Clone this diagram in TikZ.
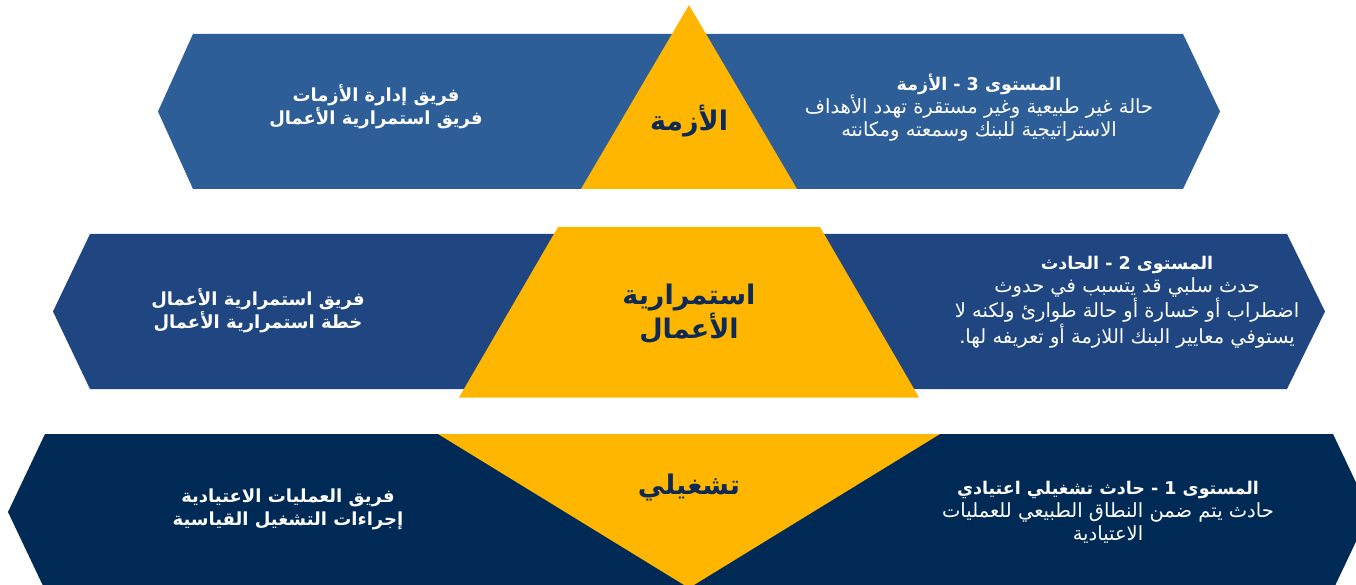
\documentclass[tikz,border=0pt]{standalone}
\usepackage{fontspec}
\TeXXeTstate=1
\newfontfamily\arabicfont[Script=Arabic]{DejaVu Sans}
\definecolor{bandtop}{HTML}{2E5E97}
\definecolor{bandmid}{HTML}{1F4680}
\definecolor{bandlow}{HTML}{002A56}
\definecolor{gold}{HTML}{FFB600}
\definecolor{navytext}{HTML}{0E2A54}
\newcommand{\headfont}{\bfseries\fontsize{17.5}{23}\selectfont}
\tikzset{
  wedge/.style={fill=gold,draw=none},
  bodytext/.style={text=white,align=center,font=\arabicfont\fontsize{19.5}{23}\selectfont,inner sep=0pt},
  teamtext/.style={text=white,align=center,font=\arabicfont\bfseries\fontsize{18}{23}\selectfont,inner sep=0pt},
  tiertext/.style={text=navytext,align=center,font=\arabicfont\bfseries\fontsize{27}{34}\selectfont,inner sep=0pt}
}
\newcommand{\rl}[1]{\beginR #1\endR}
\begin{document}
\begin{tikzpicture}[x=1pt,y=-1pt]
\useasboundingbox (0,0) rectangle (1356,585);
\clip (0,0) rectangle (1356,585);
% three hexagonal bands
\fill[bandtop] (193,34) -- (1183,34) -- (1220,111.5) -- (1183,189) -- (193,189) -- (158,111.5) -- cycle;
\fill[bandmid] (90,234) -- (1287,234) -- (1325,311.5) -- (1287,389) -- (90,389) -- (53,311.5) -- cycle;
\fill[bandlow] (45,434) -- (1333,434) -- (1370,512) -- (1333,590) -- (45,590) -- (8,512) -- cycle;
% pyramid pieces
\fill[wedge] (689,5) -- (797,189) -- (581,189) -- cycle;
\fill[wedge] (558,227) -- (820,227) -- (919,397.5) -- (459,397.5) -- cycle;
\fill[wedge] (438,434) -- (940,434) -- (689,588) -- cycle;
% tier labels
\node[tiertext] (t3) at (689,121) {\rl{الأزمة}};
\node[tiertext] (t2) at (689,314) {\rl{استمرارية}\\\rl{الأعمال}};
\node[tiertext] (t1) at (689,488) {\rl{تشغيلي}};
% team labels
\node[teamtext] (l3) at (376,107) {\rl{فريق إدارة الأزمات}\\\rl{فريق استمرارية الأعمال}};
\node[teamtext] (l2) at (258,311) {\rl{فريق استمرارية الأعمال}\\\rl{خطة استمرارية الأعمال}};
\node[teamtext] (l1) at (288,509) {\rl{فريق العمليات الاعتيادية}\\\rl{إجراءات التشغيل القياسية}};
% level descriptions
\node[bodytext] (r3) at (979,108) {{\headfont\rl{المستوى 3 - الأزمة}}\\\rl{حالة غير طبيعية وغير مستقرة تهدد الأهداف}\\\rl{الاستراتيجية للبنك وسمعته ومكانته}};
\node[bodytext] (r2) at (1127,302) {{\headfont\rl{المستوى 2 - الحادث}}\\\rl{حدث سلبي قد يتسبب في حدوث}\\\rl{اضطراب أو خسارة أو حالة طوارئ ولكنه لا}\\\rl{يستوفي معايير البنك اللازمة أو تعريفه لها.}};
\node[bodytext] (r1) at (1108,512) {{\headfont\rl{المستوى 1 - حادث تشغيلي اعتيادي}}\\\rl{حادث يتم ضمن النطاق الطبيعي للعمليات}\\\rl{الاعتيادية}};
\end{tikzpicture}
\end{document}
